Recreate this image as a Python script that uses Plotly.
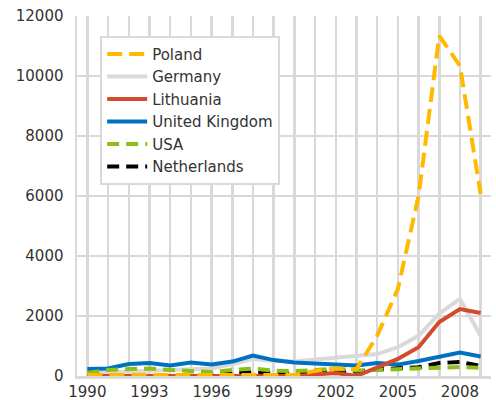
import plotly.graph_objects as go

years = list(range(1990, 2010))
poland =      [30, 30, 30, 30, 30, 30, 30, 30, 30, 30, 30, 170, 250, 230, 1340, 2900, 6000, 11340, 10340, 6070]
germany =     [100, 120, 150, 170, 200, 230, 250, 400, 570, 500, 480, 550, 600, 650, 730, 960, 1340, 2080, 2570, 1340]
lithuania =   [0, 0, 0, 0, 0, 0, 0, 0, 0, 0, 0, 50, 100, 0, 280, 570, 960, 1800, 2230, 2100]
uk =          [230, 250, 400, 430, 350, 450, 380, 480, 680, 530, 450, 420, 400, 350, 430, 380, 500, 650, 780, 650]
usa =         [100, 200, 230, 250, 200, 150, 130, 200, 250, 180, 160, 200, 250, 180, 200, 220, 230, 280, 300, 270]
netherlands = [0, 0, 0, 0, 0, 0, 50, 100, 150, 100, 80, 120, 150, 150, 220, 250, 290, 430, 470, 330]

x_ticks = [1990, 1993, 1996, 1999, 2002, 2005, 2008]
y_ticks = [0, 2000, 4000, 6000, 8000, 10000, 12000]

series = [
    ("Germany", germany, "#D9D9D9", "solid", 2),
    ("United Kingdom", uk, "#0070C0", "solid", 4),
    ("Netherlands", netherlands, "#000000", "12px,7px", 6),
    ("USA", usa, "#8DBF1A", "12px,7px", 5),
    ("Lithuania", lithuania, "#D24B2D", "solid", 3),
    ("Poland", poland, "#FFBA00", "15px,7px", 1),
]

fig = go.Figure()
for name, vals, color, dash, rank in series:
    fig.add_trace(go.Scatter(
        x=years, y=vals, name=name, mode="lines",
        line=dict(color=color, width=4, dash=dash),
        legendrank=rank,
    ))

font = "DejaVu Sans, sans-serif"
fig.update_layout(
    width=496, height=400,
    margin=dict(l=77, r=5, t=16, b=24),
    paper_bgcolor="white", plot_bgcolor="white",
    font=dict(family=font, size=15, color="#333333"),
    showlegend=True,
    legend=dict(
        x=0.056, y=0.945, xanchor="left", yanchor="top",
        bgcolor="white", bordercolor="#D9D9D9", borderwidth=2,
        font=dict(family=font, size=15, color="#333333"),
        itemwidth=40,
    ),
    xaxis=dict(
        range=[1989.5, 2009.5], tickmode="array", tickvals=x_ticks,
        ticktext=[str(v) for v in x_ticks],
        showgrid=True, gridcolor="#D9D9D9", gridwidth=2.5,
        zeroline=False, showline=True, linecolor="#D9D9D9", linewidth=2.5,
        ticks="", fixedrange=True, automargin=False,
        minor=dict(tickvals=years, showgrid=True, gridcolor="#D9D9D9", gridwidth=2.5),
    ),
    yaxis=dict(
        range=[0, 12000], tickmode="array", tickvals=y_ticks,
        ticktext=[str(v) for v in y_ticks],
        showgrid=True, gridcolor="#D9D9D9", gridwidth=2.5,
        zeroline=False, showline=True, linecolor="#D9D9D9", linewidth=2.5,
        ticks="", ticklabelstandoff=8, automargin=False, fixedrange=True,
    ),
)

fig.write_html("out.html", config={"displayModeBar": False, "staticPlot": True},
               post_script="document.body.style.margin='0';document.body.style.padding='0';")
